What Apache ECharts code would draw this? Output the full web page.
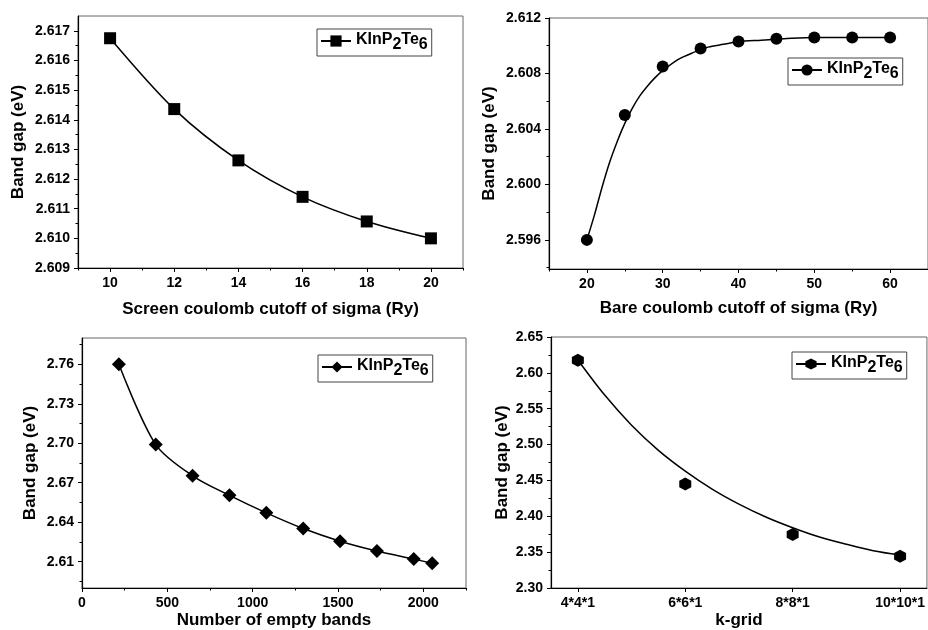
<!DOCTYPE html>
<html><head><meta charset="utf-8">
<script src="https://cdn.jsdelivr.net/npm/echarts@6/dist/echarts.min.js"></script>
<style>html,body{margin:0;padding:0;background:#fff}#c{width:928px;height:630px}</style>
</head><body><div id="c"></div>
<script>
// ---- Panel (a): screen coulomb cutoff ----
const screenCutoff = [10, 12, 14, 16, 18, 20];
const screenGap = [2.61675, 2.61436, 2.61263, 2.61140, 2.61057, 2.61000];
const aXMajor = [10, 12, 14, 16, 18, 20];
const aXMinor = [9, 11, 13, 15, 17, 19, 21];
const aYMajor = [2.609, 2.610, 2.611, 2.612, 2.613, 2.614, 2.615, 2.616, 2.617];
const aYMinor = [2.6095, 2.6105, 2.6115, 2.6125, 2.6135, 2.6145, 2.6155, 2.6165];

// ---- Panel (b): bare coulomb cutoff ----
const bareCutoff = [20, 25, 30, 35, 40, 45, 50, 55, 60];
const bareGap = [2.5960, 2.6050, 2.6085, 2.6098, 2.6103, 2.6105, 2.6106, 2.6106, 2.6106];
const bareFitX = [20, 21, 22, 23, 24, 25, 26, 27, 28, 29, 30, 32, 34, 36, 38, 40, 43, 46, 50, 55, 60];
const bareFitY = [2.5960, 2.5978, 2.5998, 2.6016, 2.6031, 2.6044, 2.6055, 2.6064, 2.6071, 2.6077, 2.6082, 2.6090, 2.6095, 2.6099, 2.6101, 2.6103, 2.6104, 2.6105, 2.6106, 2.6106, 2.6106];
const bXMajor = [20, 30, 40, 50, 60];
const bXMinor = [15, 25, 35, 45, 55, 65];
const bYMajor = [2.596, 2.600, 2.604, 2.608, 2.612];
const bYMinor = [2.594, 2.598, 2.602, 2.606, 2.610];

// ---- Panel (c): number of empty bands ----
const emptyBands = [216, 432, 648, 864, 1080, 1296, 1512, 1728, 1944, 2052];
const bandsGap = [2.7600, 2.6990, 2.6753, 2.6604, 2.6471, 2.6352, 2.6256, 2.6181, 2.6120, 2.6088];
const cXMajor = [0, 500, 1000, 1500, 2000];
const cXMinor = [250, 750, 1250, 1750, 2250];
const cYMajor = [2.61, 2.64, 2.67, 2.70, 2.73, 2.76];
const cYMinor = [2.595, 2.625, 2.655, 2.685, 2.715, 2.745, 2.775];

// ---- Panel (d): k-grid ----
const kGridN = [4, 6, 8, 10];
const kGridLabels = ['4*4*1', '6*6*1', '8*8*1', '10*10*1'];
const kGridGap = [2.6176, 2.4450, 2.3745, 2.3444];
const kFitX = [4, 4.5, 5, 5.5, 6, 6.5, 7, 7.5, 8, 8.5, 9, 9.5, 10];
const kFitY = [2.618, 2.569, 2.527, 2.492, 2.463, 2.438, 2.417, 2.399, 2.384, 2.371, 2.361, 2.352, 2.346];
const dYMajor = [2.30, 2.35, 2.40, 2.45, 2.50, 2.55, 2.60, 2.65];
const dYMinor = [2.325, 2.375, 2.425, 2.475, 2.525, 2.575, 2.625];

const FONT = 'Arial, "Liberation Sans", sans-serif';
const zip = (xs, ys) => xs.map((x, i) => [x, ys[i]]);

function axisPair(dim, gridIndex, min, max, major, minor, fmt, name, nameGap) {
  const position = dim === 'x' ? 'bottom' : 'left';
  const main = {
    type: 'value', gridIndex, min, max, position,
    axisLine: { show: true, onZero: false, lineStyle: { color: '#000', width: 1.2 } },
    axisTick: { show: true, customValues: major, length: 4, lineStyle: { color: '#000', width: 1 } },
    axisLabel: { show: true, customValues: major, formatter: fmt, margin: 8, color: '#000',
                 fontWeight: 'bold', fontSize: 14, fontFamily: FONT, hideOverlap: false },
    splitLine: { show: false },
    name, nameLocation: 'middle', nameGap,
    nameTextStyle: { color: '#000', fontWeight: 'bold', fontSize: 17, fontFamily: FONT }
  };
  const mnr = {
    type: 'value', gridIndex, min, max, position,
    axisLine: { show: false, onZero: false },
    axisTick: { show: minor.length > 0, customValues: minor, length: 2.5, lineStyle: { color: '#000', width: 1 } },
    axisLabel: { show: false },
    splitLine: { show: false }
  };
  return [main, mnr];
}

const xAxes = [
  ...axisPair('x', 0, 9, 21, aXMajor, aXMinor, v => String(v), 'Screen coulomb cutoff of sigma (Ry)', 33),
  ...axisPair('x', 1, 15, 65, bXMajor, bXMinor, v => String(v), 'Bare coulomb cutoff of sigma (Ry)', 31),
  ...axisPair('x', 2, 0, 2250, cXMajor, cXMinor, v => String(v), 'Number of empty bands', 24),
  ...axisPair('x', 3, 3.5, 10.5, kGridN, [], v => kGridLabels[kGridN.indexOf(v)] || '', 'k-grid', 24)
];
const yAxes = [
  ...axisPair('y', 0, 2.609, 2.6175, aYMajor, aYMinor, v => v.toFixed(3), 'Band gap (eV)', 51),
  ...axisPair('y', 1, 2.5939, 2.612, bYMajor, bYMinor, v => v.toFixed(3), 'Band gap (eV)', 51),
  ...axisPair('y', 2, 2.59, 2.78, cYMajor, cYMinor, v => v.toFixed(2), 'Band gap (eV)', 43),
  ...axisPair('y', 3, 2.30, 2.65, dYMajor, dYMinor, v => v.toFixed(2), 'Band gap (eV)', 40)
];

const gridBase = { show: true, borderColor: '#666', borderWidth: 1, backgroundColor: 'transparent', containLabel: false };
const grids = [
  { ...gridBase, left: 78, top: 16, right: 465, bottom: 362 },
  { ...gridBase, left: 549, top: 18, right: -4, bottom: 361 },
  { ...gridBase, left: 82, top: 338, right: 462, bottom: 39 },
  { ...gridBase, left: 551, top: 337, right: -6, bottom: 41 }
];

const HEX = 'path://M0,-10L8.66,-5L8.66,5L0,10L-8.66,5L-8.66,-5Z';
const lineStyle = { color: '#000', width: 1.5 };
const itemStyle = { color: '#000', opacity: 1 };

const series = [
  { type: 'line', name: 'KInP2Te6-a', xAxisIndex: 0, yAxisIndex: 0, data: zip(screenCutoff, screenGap),
    smooth: 0.3, symbol: 'rect', symbolSize: 12, lineStyle, itemStyle, z: 3 },
  { type: 'line', name: 'KInP2Te6-b', xAxisIndex: 2, yAxisIndex: 2, data: zip(bareFitX, bareFitY),
    smooth: 0.3, symbol: 'circle', symbolSize: 12, showSymbol: false, lineStyle, itemStyle, z: 2 },
  { type: 'scatter', name: 'KInP2Te6-b-points', xAxisIndex: 2, yAxisIndex: 2, data: zip(bareCutoff, bareGap),
    symbol: 'circle', symbolSize: 12, itemStyle, z: 3 },
  { type: 'line', name: 'KInP2Te6-c', xAxisIndex: 4, yAxisIndex: 4, data: zip(emptyBands, bandsGap),
    smooth: 0.3, symbol: 'diamond', symbolSize: 14, lineStyle, itemStyle, z: 3 },
  { type: 'line', name: 'KInP2Te6-d', xAxisIndex: 6, yAxisIndex: 6, data: zip(kFitX, kFitY),
    smooth: 0.3, symbol: HEX, symbolSize: [12, 13], showSymbol: false, lineStyle, itemStyle, z: 2 },
  { type: 'scatter', name: 'KInP2Te6-d-points', xAxisIndex: 6, yAxisIndex: 6, data: zip(kGridN, kGridGap),
    symbol: HEX, symbolSize: [12, 13], itemStyle, z: 3 }
];

const rich = {
  a: { fontSize: 16, fontWeight: 'bold', color: '#000', fontFamily: FONT, lineHeight: 18, verticalAlign: 'top' },
  s: { fontSize: 16, fontWeight: 'bold', color: '#000', fontFamily: FONT, lineHeight: 18, verticalAlign: 'top', padding: [5, 0, 0, 0] }
};
function legendAt(name, left, top) {
  return {
    data: [name], left, top, orient: 'horizontal', selectedMode: false,
    padding: [3, 4, 3, 3], itemWidth: 30, itemHeight: 14, itemGap: 0,
    backgroundColor: '#fff', borderColor: '#444', borderWidth: 1, borderRadius: 0,
    formatter: () => '{a|KInP}{s|2}{a|Te}{s|6}',
    textStyle: { rich }
  };
}

const chart = echarts.init(document.getElementById('c'), null, { renderer: 'canvas' });
chart.setOption({
  backgroundColor: '#fff',
  animation: false,
  grid: grids,
  xAxis: xAxes,
  yAxis: yAxes,
  legend: [
    legendAt('KInP2Te6-a', 317, 29),
    legendAt('KInP2Te6-b', 788, 58),
    legendAt('KInP2Te6-c', 318, 355),
    legendAt('KInP2Te6-d', 792, 352)
  ],
  series
});
</script>
</body></html>
